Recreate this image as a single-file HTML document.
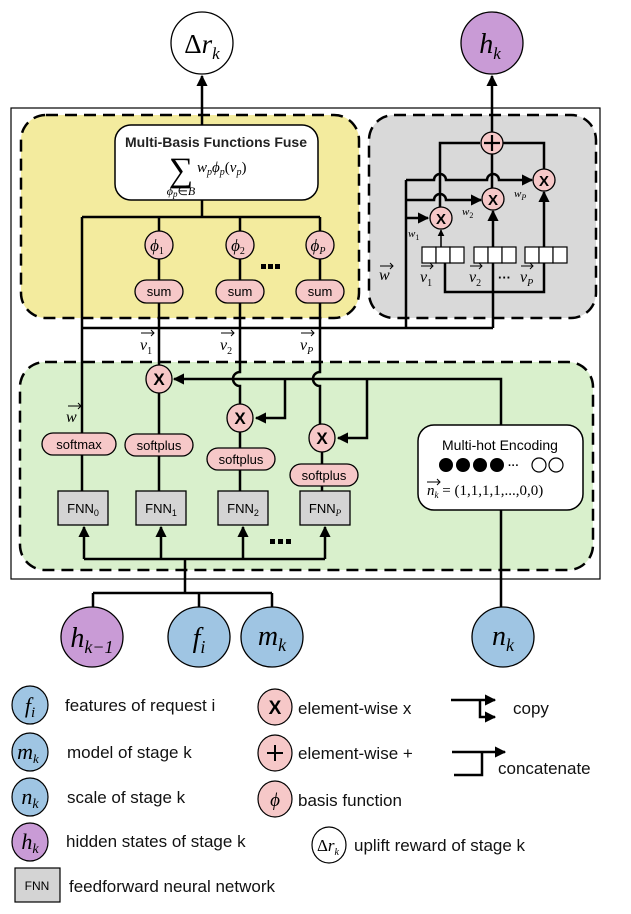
<!DOCTYPE html>
<html><head><meta charset="utf-8"><style>
body{margin:0;background:#fff}
svg{display:block}
.s{font-family:"Liberation Sans",sans-serif}
.m{font-family:"Liberation Serif",serif;font-style:italic}
</style></head><body>
<svg width="631" height="914" viewBox="0 0 631 914" xmlns="http://www.w3.org/2000/svg">
<defs>
<marker id="a" viewBox="0 0 10 10" refX="9" refY="5" markerWidth="4.5" markerHeight="4.5" orient="auto"><path d="M0,0L10,5L0,10z" fill="#000"/></marker>
</defs>
<g fill="none" stroke="#000">
<rect x="11" y="108" width="589" height="471" stroke-width="1.2"/>
<rect x="21" y="115" width="338" height="203" rx="25" fill="#f3eb9e" stroke-width="2.5" stroke-dasharray="12,7"/>
<rect x="369" y="115" width="227" height="203" rx="25" fill="#d9d9d9" stroke-width="2.5" stroke-dasharray="12,7"/>
<rect x="20" y="362" width="573" height="208" rx="25" fill="#d9f0cc" stroke-width="2.5" stroke-dasharray="12,7"/>
</g>
<g fill="none" stroke="#000" stroke-width="2.5">
<path d="M202 125V76" marker-end="url(#a)"/>
<path d="M492 132V76" marker-end="url(#a)"/>
<path d="M202 200V217M82 217H320M82 217V433M159 217V303M240 217V303M320 217V303"/>
<path d="M82 328H493"/>
<path d="M159 303V366"/>
<path d="M240 303V372a7 7 0 0 0 0 14V405"/>
<path d="M320 303V372a7 7 0 0 0 0 14V425"/>
<path d="M406 328V180"/>
<path d="M493 328V263"/>
<path d="M480 143H440V207M503 143H544V169M492 154V188"/>
<path d="M406 180H434a6 6 0 0 1 12 0H487a6 6 0 0 1 12 0H532" marker-end="url(#a)"/>
<path d="M406 200H434a6 6 0 0 1 12 0H481" marker-end="url(#a)"/>
<path d="M406 218H428" marker-end="url(#a)"/>
<path d="M493 247V211" marker-end="url(#a)"/>
<path d="M544 247V192" marker-end="url(#a)"/>
<path d="M441 247V230" stroke-width="1.5" marker-end="url(#a)"/>
<path d="M445 263V292H544V263"/>
<path d="M501 425V379H174" marker-end="url(#a)"/>
<path d="M285 379V418H256" marker-end="url(#a)"/>
<path d="M367 379V438H338" marker-end="url(#a)"/>
<path d="M159 392V434M82 455V491M159 456V491M240 431V448M240 470V491M322 451V464M322 486V491"/>
<path d="M501 510V607"/>
<path d="M84 559H325M185 559V593M93 593H272M93 593V607M199 593V607M272 593V607"/>
<path d="M84 559V527" marker-end="url(#a)"/>
<path d="M161 559V527" marker-end="url(#a)"/>
<path d="M243 559V527" marker-end="url(#a)"/>
<path d="M325 559V527" marker-end="url(#a)"/>
<path d="M451 700H495" marker-end="url(#a)"/>
<path d="M480 700V717H495" marker-end="url(#a)"/>
<path d="M452 752H505" marker-end="url(#a)"/>
<path d="M482 752V775H454"/>
</g>
<circle cx="202" cy="43" r="31" fill="#fff" stroke="#000" stroke-width="1.3"/>
<text x="202" y="53" text-anchor="middle" class="m" font-size="27"><tspan font-style="normal">Δ</tspan>r<tspan font-size="17" dy="6">k</tspan></text>
<circle cx="492" cy="43" r="31" fill="#c99bd6" stroke="#000" stroke-width="1.3"/>
<text x="490" y="53" text-anchor="middle" class="m" font-size="28">h<tspan font-size="17" dy="6">k</tspan></text>
<rect x="115" y="125" width="203" height="75" rx="16" fill="#fff" stroke="#000" stroke-width="1.5"/>
<text x="216" y="147" text-anchor="middle" class="s" font-size="14" font-weight="bold" fill="#222">Multi-Basis Functions Fuse</text>
<text x="181" y="181" text-anchor="middle" font-family="Liberation Serif,serif" font-size="34">∑</text>
<text x="181" y="195" text-anchor="middle" class="m" font-size="12">ϕ<tspan font-size="9" dy="2">p</tspan><tspan dy="-2" font-style="normal">∈</tspan>B</text>
<text x="197" y="172" class="m" font-size="15">w<tspan font-size="10" dy="3">p</tspan><tspan dy="-3">ϕ</tspan><tspan font-size="10" dy="3">p</tspan><tspan dy="-3" font-style="normal">(</tspan>v<tspan font-size="10" dy="3">p</tspan><tspan dy="-3" font-style="normal">)</tspan></text>
<g fill="#f6c8c8" stroke="#000" stroke-width="1.3">
<circle cx="159" cy="245" r="14"/><circle cx="240" cy="245" r="14"/><circle cx="320" cy="245" r="14"/>
<rect x="135" y="280" width="48" height="23" rx="11.5"/><rect x="216" y="280" width="48" height="23" rx="11.5"/><rect x="296" y="280" width="48" height="23" rx="11.5"/>
</g>
<g class="m" font-size="17" text-anchor="middle">
<text x="157" y="251">ϕ<tspan font-size="10" dy="3" font-style="normal">1</tspan></text>
<text x="238" y="251">ϕ<tspan font-size="10" dy="3" font-style="normal">2</tspan></text>
<text x="318" y="251">ϕ<tspan font-size="10" dy="3">P</tspan></text>
</g>
<g class="s" font-size="13" text-anchor="middle"><text x="159" y="296">sum</text><text x="240" y="296">sum</text><text x="320" y="296">sum</text></g>
<g fill="#000"><rect x="261" y="264" width="5" height="5"/><rect x="268" y="264" width="5" height="5"/><rect x="275" y="264" width="5" height="5"/></g>
<g fill="#f6c8c8" stroke="#000" stroke-width="1.3">
<circle cx="492" cy="143" r="11"/><circle cx="441" cy="218" r="11"/><circle cx="493" cy="199" r="11"/><circle cx="544" cy="180" r="11"/>
</g>
<path d="M492 135V151M484 143H500" stroke="#000" stroke-width="2.2"/>
<g class="s" font-size="15" font-weight="bold" text-anchor="middle"><text x="441" y="224">X</text><text x="493" y="205">X</text><text x="544" y="186">X</text></g>
<g class="m" font-size="11"><text x="408" y="237">w<tspan font-size="8" dy="3" font-style="normal">1</tspan></text><text x="462" y="215">w<tspan font-size="8" dy="3" font-style="normal">2</tspan></text><text x="514" y="197">w<tspan font-size="8" dy="3">P</tspan></text></g>
<g fill="#fff" stroke="#000" stroke-width="1.2">
<rect x="422" y="247" width="14" height="16"/><rect x="436" y="247" width="14" height="16"/><rect x="450" y="247" width="14" height="16"/>
<rect x="474" y="247" width="14" height="16"/><rect x="488" y="247" width="14" height="16"/><rect x="502" y="247" width="14" height="16"/>
<rect x="525" y="247" width="14" height="16"/><rect x="539" y="247" width="14" height="16"/><rect x="553" y="247" width="14" height="16"/>
</g>
<g class="m" font-size="16">
<text x="379" y="280">w</text><text x="420" y="282">v<tspan font-size="10" dy="4" font-style="normal">1</tspan></text><text x="469" y="282">v<tspan font-size="10" dy="4" font-style="normal">2</tspan></text><text x="520" y="282">v<tspan font-size="10" dy="4">P</tspan></text>
</g>
<text x="498" y="282" class="s" font-size="13" font-weight="bold">···</text>
<g stroke="#000" stroke-width="1" fill="none">
<path d="M380 266H393M390 263l3 3-3 3M421 266H433M430 263l3 3-3 3M470 266H482M479 263l3 3-3 3M521 266H533M530 263l3 3-3 3"/>
<path d="M141 333H154M151 330l3 3-3 3M221 333H234M231 330l3 3-3 3M301 333H314M311 330l3 3-3 3M68 406H81M78 403l3 3-3 3"/>
</g>
<g class="m" font-size="16">
<text x="140" y="350">v<tspan font-size="10" dy="4" font-style="normal">1</tspan></text><text x="220" y="350">v<tspan font-size="10" dy="4" font-style="normal">2</tspan></text><text x="300" y="350">v<tspan font-size="10" dy="4">P</tspan></text>
<text x="66" y="422">w</text>
</g>
<g fill="#f6c8c8" stroke="#000" stroke-width="1.3">
<ellipse cx="159" cy="379" rx="13" ry="14"/><ellipse cx="240" cy="418" rx="13" ry="14"/><ellipse cx="322" cy="438" rx="13" ry="14"/>
<rect x="42" y="433" width="74" height="22" rx="11"/><rect x="125" y="434" width="68" height="22" rx="11"/><rect x="207" y="448" width="68" height="22" rx="11"/><rect x="290" y="464" width="68" height="22" rx="11"/>
</g>
<g class="s" font-size="17" font-weight="bold" text-anchor="middle"><text x="159" y="385">X</text><text x="240" y="424">X</text><text x="322" y="444">X</text></g>
<g class="s" font-size="13" text-anchor="middle"><text x="79" y="449">softmax</text><text x="159" y="450">softplus</text><text x="241" y="464">softplus</text><text x="324" y="480">softplus</text></g>
<g fill="#d4d4d4" stroke="#000" stroke-width="1.3">
<rect x="58" y="491" width="50" height="34"/><rect x="136" y="491" width="50" height="34"/><rect x="218" y="491" width="50" height="34"/><rect x="300" y="491" width="50" height="34"/>
</g>
<g class="s" font-size="13" text-anchor="middle"><text x="83" y="513">FNN<tspan font-size="9" dy="3">0</tspan></text><text x="161" y="513">FNN<tspan font-size="9" dy="3">1</tspan></text><text x="243" y="513">FNN<tspan font-size="9" dy="3">2</tspan></text><text x="325" y="513">FNN<tspan font-size="9" dy="3" class="m">P</tspan></text></g>
<g fill="#000"><rect x="270" y="539" width="5" height="5"/><rect x="278" y="539" width="5" height="5"/><rect x="286" y="539" width="5" height="5"/></g>
<rect x="418" y="425" width="165" height="85" rx="16" fill="#fff" stroke="#000" stroke-width="1.5"/>
<text x="500" y="450" text-anchor="middle" class="s" font-size="14">Multi-hot Encoding</text>
<g fill="#000"><circle cx="446" cy="465" r="7"/><circle cx="463" cy="465" r="7"/><circle cx="480" cy="465" r="7"/><circle cx="497" cy="465" r="7"/></g>
<text x="508" y="469" class="s" font-size="11" font-weight="bold">···</text>
<g fill="none" stroke="#000" stroke-width="1.2"><circle cx="539" cy="465" r="7"/><circle cx="556" cy="465" r="7"/></g>
<text x="427" y="495" class="m" font-size="15">n<tspan font-size="9" dy="3">k</tspan><tspan dy="-3" font-style="normal"> = (1,1,1,1,...,0,0)</tspan></text>
<path d="M427 482H440M437 479l3 3-3 3" stroke="#000" fill="none"/>
<g stroke="#000" stroke-width="1.3">
<ellipse cx="92" cy="637" rx="31" ry="30" fill="#c99bd6"/>
<ellipse cx="199" cy="637" rx="31" ry="30" fill="#9fc5e3"/>
<ellipse cx="272" cy="637" rx="31" ry="30" fill="#9fc5e3"/>
<ellipse cx="503" cy="637" rx="31" ry="30" fill="#9fc5e3"/>
</g>
<g class="m" font-size="28" text-anchor="middle">
<text x="92" y="647">h<tspan font-size="18" dy="6">k−1</tspan></text>
<text x="199" y="647">f<tspan font-size="18" dy="6">i</tspan></text>
<text x="272" y="645">m<tspan font-size="18" dy="6">k</tspan></text>
<text x="503" y="645">n<tspan font-size="18" dy="6">k</tspan></text>
</g>
<g stroke="#000" stroke-width="1.2">
<ellipse cx="30" cy="705" rx="18" ry="19" fill="#9fc5e3"/>
<ellipse cx="30" cy="752" rx="18" ry="19" fill="#9fc5e3"/>
<ellipse cx="30" cy="797" rx="18" ry="19" fill="#9fc5e3"/>
<ellipse cx="30" cy="842" rx="18" ry="19" fill="#c99bd6"/>
<rect x="15" y="868" width="45" height="34" fill="#d4d4d4"/>
<ellipse cx="275" cy="707" rx="17" ry="18" fill="#f6c8c8"/>
<ellipse cx="275" cy="753" rx="17" ry="18" fill="#f6c8c8"/>
<ellipse cx="275" cy="799" rx="17" ry="18" fill="#f6c8c8"/>
<ellipse cx="329" cy="845" rx="17" ry="18" fill="#fff"/>
</g>
<g class="m" font-size="22" text-anchor="middle">
<text x="30" y="713">f<tspan font-size="15" dy="4">i</tspan></text>
<text x="28" y="759">m<tspan font-size="13" dy="4">k</tspan></text>
<text x="30" y="804">n<tspan font-size="14" dy="4">k</tspan></text>
<text x="30" y="849">h<tspan font-size="14" dy="4">k</tspan></text>
<text x="275" y="806" font-size="19">ϕ</text>
<text x="328" y="851" font-size="17"><tspan font-style="normal">Δ</tspan>r<tspan font-size="10" dy="4">k</tspan></text>
</g>
<text x="275" y="714" text-anchor="middle" class="s" font-size="19" font-weight="bold">X</text>
<path d="M275 745V761M267 753H283" stroke="#000" stroke-width="2"/>
<text x="37" y="890" text-anchor="middle" class="s" font-size="12">FNN</text>
<g class="s" font-size="17" fill="#111">
<text x="65" y="711">features of request i</text>
<text x="67" y="758">model of stage k</text>
<text x="67" y="803">scale of stage k</text>
<text x="66" y="847">hidden states of stage k</text>
<text x="69" y="892">feedforward neural network</text>
<text x="298" y="714">element-wise x</text>
<text x="298" y="759">element-wise +</text>
<text x="298" y="806">basis function</text>
<text x="354" y="851">uplift reward of stage k</text>
<text x="513" y="714">copy</text>
<text x="498" y="774">concatenate</text>
</g>
</svg>
</body></html>
